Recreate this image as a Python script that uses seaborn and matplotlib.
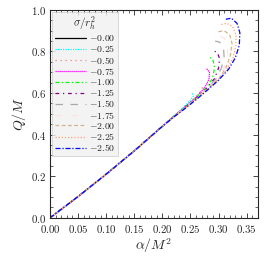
import numpy as np
import pandas as pd
import matplotlib
matplotlib.use("Agg")
import matplotlib.pyplot as plt
from matplotlib.ticker import MultipleLocator, FuncFormatter
import seaborn as sns

sns.set_style("ticks")
plt.rcParams['font.family'] = ['DejaVu Serif']
plt.rcParams['mathtext.fontset'] = 'cm'

# shared lower branch (alpha/M^2, Q/M)
base_a = [0.0, 0.05, 0.10, 0.15, 0.20]
base_q = [0.0, 0.1025, 0.21, 0.322, 0.44]

sigmas = ["-0.00", "-0.25", "-0.50", "-0.75", "-1.00", "-1.25",
          "-1.50", "-1.75", "-2.00", "-2.25", "-2.50"]

# upper parts of each curve
tail_a = [
    [0.21, 0.22],
    [0.22, 0.235, 0.248, 0.255, 0.253],
    [0.22, 0.24, 0.255, 0.267, 0.272, 0.27],
    [0.22, 0.24, 0.26, 0.275, 0.283, 0.284, 0.278],
    [0.22, 0.24, 0.26, 0.278, 0.289, 0.293, 0.29, 0.283],
    [0.22, 0.24, 0.26, 0.28, 0.293, 0.30, 0.302, 0.298, 0.29],
    [0.22, 0.24, 0.26, 0.28, 0.295, 0.305, 0.31, 0.309, 0.302, 0.294],
    [0.22, 0.24, 0.26, 0.28, 0.30, 0.31, 0.316, 0.316, 0.31, 0.30],
    [0.22, 0.24, 0.26, 0.28, 0.30, 0.313, 0.321, 0.324, 0.32, 0.31, 0.30],
    [0.22, 0.24, 0.26, 0.28, 0.30, 0.315, 0.326, 0.331, 0.331, 0.325, 0.315, 0.305],
    [0.22, 0.24, 0.26, 0.28, 0.30, 0.318, 0.33, 0.337, 0.338, 0.333, 0.323, 0.313],
]
tail_q = [
    [0.463, 0.487],
    [0.49, 0.525, 0.56, 0.585, 0.60],
    [0.488, 0.535, 0.57, 0.605, 0.63, 0.645],
    [0.487, 0.533, 0.58, 0.625, 0.665, 0.70, 0.72],
    [0.486, 0.531, 0.577, 0.625, 0.67, 0.72, 0.76, 0.775],
    [0.486, 0.53, 0.575, 0.625, 0.67, 0.72, 0.765, 0.795, 0.805],
    [0.485, 0.529, 0.573, 0.622, 0.665, 0.72, 0.77, 0.815, 0.845, 0.85],
    [0.485, 0.528, 0.572, 0.62, 0.67, 0.72, 0.78, 0.83, 0.865, 0.875],
    [0.485, 0.527, 0.571, 0.618, 0.668, 0.72, 0.78, 0.84, 0.88, 0.90, 0.895],
    [0.484, 0.526, 0.57, 0.616, 0.665, 0.715, 0.77, 0.83, 0.88, 0.92, 0.935, 0.93],
    [0.484, 0.525, 0.568, 0.614, 0.662, 0.715, 0.77, 0.83, 0.89, 0.935, 0.96, 0.955],
]

colors = ["black", "cyan", "lightcoral", "magenta", "lime", "purple",
          "darkgray", "mistyrose", "tan", "lightsalmon", "blue"]
styles = ["-", (0, (1, 1)), (0, (1, 3)), (0, (1, 0.6)), (0, (3, 2, 1, 2)),
          (0, (3, 3, 1, 3)), (0, (6, 6)), (0, (5, 8)), (0, (3, 2)),
          (0, (1, 1.5)), (0, (4, 1.5, 1, 1.5))]

rows = []
for s, ta, tq in zip(sigmas, tail_a, tail_q):
    for i, (a, q) in enumerate(zip(base_a + ta, base_q + tq)):
        rows.append({"sigma": s, "order": i, "alpha": a, "Q": q})
df = pd.DataFrame(rows)

fig = plt.figure(figsize=(2.7, 2.6), dpi=100)
ax = fig.add_axes([0.185, 0.162, 0.77, 0.8])

for s, c, ls in zip(sigmas, colors, styles):
    sub = df[df["sigma"] == s]
    sns.lineplot(data=sub, x="alpha", y="Q", sort=False, estimator=None,
                 color=c, linestyle=ls, lw=0.9, ax=ax,
                 label="$" + s + "$")

ax.set_xlim(0, 0.37)
ax.set_ylim(0, 1.0)
ax.xaxis.set_major_locator(MultipleLocator(0.05))
ax.xaxis.set_minor_locator(MultipleLocator(0.01))
ax.yaxis.set_major_locator(MultipleLocator(0.2))
ax.yaxis.set_minor_locator(MultipleLocator(0.05))
ax.xaxis.set_major_formatter(FuncFormatter(lambda v, p: f"${v:.2f}$"))
ax.yaxis.set_major_formatter(FuncFormatter(lambda v, p: f"${v:.1f}$"))
ax.tick_params(which="both", direction="in", top=True, right=True, labelsize=7.8)
ax.tick_params(axis="x", pad=4)
ax.tick_params(axis="y", pad=2.5)
ax.tick_params(which="major", length=3.5, width=0.6)
ax.tick_params(which="minor", length=2, width=0.5)
for sp in ax.spines.values():
    sp.set_linewidth(0.8)
ax.set_xlabel(r"$\alpha/M^2$", fontsize=10, labelpad=1)
ax.set_ylabel(r"$Q/M$", fontsize=10, labelpad=2)

leg = ax.legend(title=r"$\sigma/r_h^2$", loc="upper left", fontsize=7,
                title_fontsize=8, frameon=True, fancybox=False,
                handlelength=3.2, handletextpad=0.3, labelspacing=0.02,
                borderpad=0.3, borderaxespad=0.2)
leg.get_frame().set_facecolor("#f0f0f0")
leg.get_frame().set_edgecolor("#c8c8c8")
leg.get_frame().set_linewidth(0.6)

fig.savefig("out.png", dpi=100)
